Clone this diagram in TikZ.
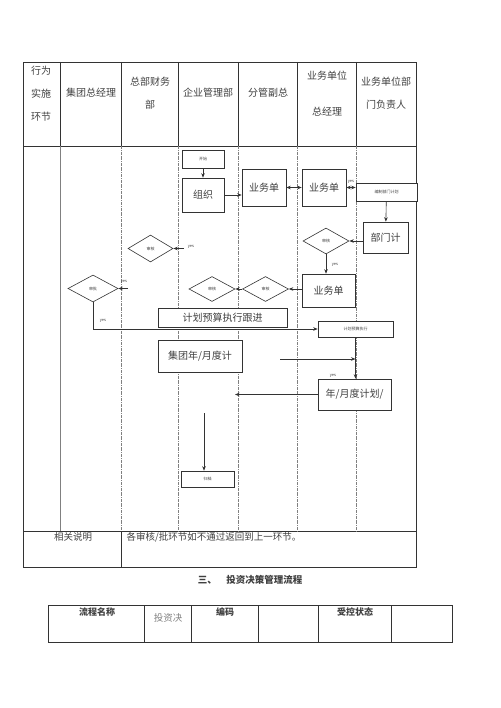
\documentclass[tikz,border=0pt]{standalone}
\usepackage{fontspec}
\newfontfamily\cjk{Noto Sans CJK SC}
\usetikzlibrary{shapes.geometric,arrows.meta}

\tikzset{
  >={Stealth[length=4.5pt,width=3.5pt]},
  box/.style={draw, rectangle, fill=white, inner sep=0pt, text=black!75,
    font=\cjk\fontsize{10}{10}\selectfont},
  tinybox/.style={box, font=\cjk\fontsize{4}{4}\selectfont},
  check/.style={draw, diamond, fill=white, inner sep=0pt, minimum width=46pt,
    minimum height=26pt, text=black!75, font=\cjk\fontsize{4}{4}\selectfont},
  note/.style={font=\cjk\fontsize{4}{4}\selectfont, inner sep=0.5pt, text=black!75},
  lane/.style={gray, densely dashdotted, very thin},
  head/.style={font=\cjk\fontsize{10}{23}\selectfont, align=center, text=black!75},
  cell/.style={font=\cjk\fontsize{9.5}{9.5}\selectfont, text=black!75},
}

\begin{document}
\begin{tikzpicture}[x=1pt, y=-1pt, line width=0.6pt, draw=black!80]
  \useasboundingbox (0,0) rectangle (500,708);

  % frame of the lanes
  \draw (23,62) rectangle (416,567);
  \draw (23,146) -- (416,146);
  \draw (23,531) -- (416,531);
  \foreach \x in {60,121,178,238,297,356}
    \draw (\x,62) -- (\x,146);
  \draw[gray] (60,146) -- (60,531);
  \foreach \x in {121,178,238,297,356}
    \draw[lane] (\x,146) -- (\x,531);
  \draw (121,531) -- (121,567);

  % lane heads
  \node[head] (hStep) at (41,94) {行为\\实施\\环节};
  \node[head] (hCeo) at (91,93) {集团总经理};
  \node[head] (hFin) at (150,93.5) {总部财务\\部};
  \node[head] (hMgt) at (208,93) {企业管理部};
  \node[head] (hVp) at (268,93) {分管副总};
  \node[head, font=\cjk\fontsize{10}{36}\selectfont] (hUnit) at (327,94) {业务单位\\总经理};
  \node[head] (hDept) at (386,93.5) {业务单位部\\门负责人};

  % steps
  \node[tinybox, minimum width=42pt, minimum height=18pt] (start) at (203,159) {开始};
  \node[box, minimum width=42pt, minimum height=34pt] (org) at (203,195) {组织};
  \node[box, minimum width=44pt, minimum height=37pt] (unitA) at (264,187.5) {业务单};
  \node[box, minimum width=44pt, minimum height=37pt] (unitB) at (324,187.5) {业务单};
  \node[tinybox, minimum width=61pt, minimum height=18pt] (draft) at (386.5,192) {编制部门计划};
  \node[box, minimum width=45pt, minimum height=31pt] (dept) at (385.5,237.5) {部门计};
  \node[check] (chkF) at (326,241) {审核};
  \node[box, minimum width=53pt, minimum height=33pt] (unitC) at (328.5,290.5) {业务单};
  \node[check, minimum height=25pt] (chkE) at (265.5,289) {审核};
  \node[check, minimum height=25pt] (chkD) at (212,289) {审核};
  \node[check, minimum width=45pt, minimum height=27pt] (chkC) at (150.5,248.5) {审核};
  \node[check, minimum width=50pt, minimum height=27pt] (chkA) at (93,288.5) {审批};
  \node[box, minimum width=129pt, minimum height=19pt] (track) at (222.5,317.5) {计划预算执行跟进};
  \node[tinybox, minimum width=75pt, minimum height=16pt] (exec) at (355.5,329) {计划预算执行};
  \node[box, minimum width=84pt, minimum height=32pt] (gplan) at (200,356) {集团年/月度计};
  \node[box, minimum width=73pt, minimum height=31pt] (uplan) at (354.5,394.5) {年/月度计划/};
  \node[tinybox, minimum width=53pt, minimum height=16pt] (done) at (207.5,479) {归档};

  \coordinate (inC) at (184,248.5);
  \coordinate (inA) at (128,288.5);
  \coordinate (inU) at (280,359);
  \coordinate (outU) at (235,394.5);
  \coordinate (inE) at (204,413);

  \node[note] (lB) at (351,182) {yes};
  \node[note] (lF) at (335,265) {yes};
  \node[note] (lC) at (191,247) {yes};
  \node[note] (lA) at (124,282) {yes};
  \node[note] (lAd) at (103,321) {yes};
  \node[note] (lU) at (333,376) {yes};

  \path[->]
    (start) edge (org)
    (org.east) edge (org.east -| unitA.west)
    (unitA) edge[<->] (unitB)
    (unitB.east) edge[<->] (unitB.east -| draft.west)
    (draft) edge (dept)
    (dept.west |- chkF) edge (chkF.east)
    (chkF) edge (chkF |- unitC.north)
    (unitC.west |- chkE) edge (chkE.east)
    (chkE.west) edge (chkD.east)
    (inC) edge (chkC.east)
    (inA) edge (chkA.east)
    (exec) edge (exec |- uplan.north)
    (inU) edge (inU -| exec)
    (uplan.west) edge (outU)
    (inE) edge (inE |- done.north);
  \draw[->] (chkA.south) |- (exec.west);

  % remarks row
  \node[cell] (remK) at (73,537) {相关说明};
  \node[cell, anchor=west] (remV) at (123,537) {各审核/批环节如不通过返回到上一环节。};

  % next section
  \node[cell, font=\cjk\bfseries\fontsize{9.5}{9.5}\selectfont] (title) at (250,580) {三、\quad 投资决策管理流程};

  \draw (48,605) rectangle (452,642);
  \foreach \x in {144,191,258,318,391}
    \draw (\x,605) -- (\x,642);
  \node[cell, font=\cjk\bfseries\fontsize{9}{9}\selectfont] (kName) at (97,612) {流程名称};
  \node[cell, text=gray] (vName) at (168,618) {投资决};
  \node[cell, font=\cjk\bfseries\fontsize{9}{9}\selectfont] (kCode) at (225,612) {编码};
  \node[cell, font=\cjk\bfseries\fontsize{9}{9}\selectfont] (kState) at (355,612) {受控状态};
\end{tikzpicture}
\end{document}
